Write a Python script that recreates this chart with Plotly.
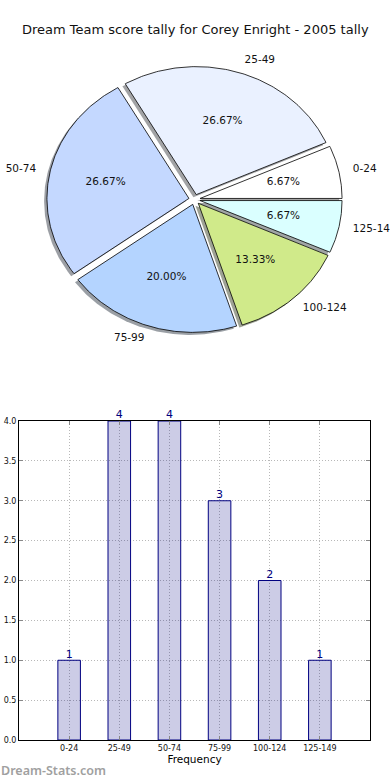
import numpy as np
import plotly.graph_objects as go

# ---- data ----
categories = ["0-24", "25-49", "50-74", "75-99", "100-124", "125-149"]
counts = [1, 4, 4, 3, 2, 1]
pie_colors = ["#FFFFFF", "#EAF1FF", "#C4D8FF", "#B4D4FF", "#D0EA8A", "#DAFFFF"]
y_ticks = [0.0, 0.5, 1.0, 1.5, 2.0, 2.5, 3.0, 3.5, 4.0]
title_text = "Dream Team score tally for Corey Enright - 2005 tally"

W, H = 390, 780
FONT = "DejaVu Sans"

fig = go.Figure()

# ---- pie drawn as filled wedges on an unequal-aspect axis (like matplotlib) ----
total = float(sum(counts))
explode = 0.04
cum = np.concatenate([[0], np.cumsum(counts)]) / total * 360.0
wedges = []
for i in range(len(counts)):
    t1, t2 = cum[i], cum[i + 1]
    mid = np.deg2rad((t1 + t2) / 2)
    cx, cy = explode * np.cos(mid), explode * np.sin(mid)
    th = np.deg2rad(np.linspace(t1, t2, 120))
    xs = np.concatenate([[cx], cx + np.cos(th), [cx]])
    ys = np.concatenate([[cy], cy + np.sin(th), [cy]])
    wedges.append((xs, ys, cx, cy, mid))

def hex_to_rgb(h):
    h = h.lstrip("#")
    return [int(h[k:k + 2], 16) for k in (0, 2, 4)]

# shadows first (below all wedges)
for i, (xs, ys, cx, cy, mid) in enumerate(wedges):
    r, g, b = [int(0.3 * c) for c in hex_to_rgb(pie_colors[i])]
    fig.add_trace(go.Scatter(
        x=xs - 0.02, y=ys - 0.02, xaxis="x2", yaxis="y2",
        mode="lines", fill="toself", fillcolor=f"rgba({r},{g},{b},0.5)",
        line=dict(width=0), hoverinfo="skip", showlegend=False))

for i, (xs, ys, cx, cy, mid) in enumerate(wedges):
    fig.add_trace(go.Scatter(
        x=xs, y=ys, xaxis="x2", yaxis="y2",
        mode="lines", fill="toself", fillcolor=pie_colors[i],
        line=dict(color="black", width=0.8), hoverinfo="skip", showlegend=False))

# labels and percentages
lab_x, lab_y, lab_pos, pct_x, pct_y, pct_t = [], [], [], [], [], []
for i, (xs, ys, cx, cy, mid) in enumerate(wedges):
    lx, ly = cx + 1.1 * np.cos(mid), cy + 1.1 * np.sin(mid)
    lab_x.append(lx); lab_y.append(ly)
    lab_pos.append("middle right" if lx > 0 else "middle left")
    pct_x.append(cx + 0.6 * np.cos(mid)); pct_y.append(cy + 0.6 * np.sin(mid))
    pct_t.append(f"{100.0 * counts[i] / total:.2f}%")

for k in range(len(categories)):
    fig.add_trace(go.Scatter(
        x=[lab_x[k]], y=[lab_y[k]], xaxis="x2", yaxis="y2", mode="text",
        text=[categories[k]], textposition=lab_pos[k],
        textfont=dict(family=FONT, size=10.5, color="#111"),
        hoverinfo="skip", showlegend=False, cliponaxis=False))
fig.add_trace(go.Scatter(
    x=pct_x, y=pct_y, xaxis="x2", yaxis="y2", mode="text",
    text=pct_t, textposition="middle center",
    textfont=dict(family=FONT, size=10.5, color="#111"),
    hoverinfo="skip", showlegend=False, cliponaxis=False))

# ---- bar chart ----
fig.add_trace(go.Bar(
    x=categories, y=counts, width=0.45,
    marker=dict(color="rgba(0,0,128,0.2)", line=dict(color="#000080", width=1)),
    hoverinfo="skip", showlegend=False))
fig.add_trace(go.Scatter(
    x=categories, y=counts, mode="text", text=[str(c) for c in counts],
    textposition="top center", textfont=dict(family=FONT, size=11, color="#000080"),
    cliponaxis=False, hoverinfo="skip", showlegend=False))

# pie axis geometry: center px, x/y radii in px
cxp, cyp, rx, ry = 194.5, 199.5, 142.0, 128.0
py_top, py_bot = 40.0, 360.0

grid = dict(showgrid=True, gridcolor="#b8b8b8", griddash="1px,2px", gridwidth=1)

fig.update_layout(
    width=W, height=H, margin=dict(l=0, r=0, t=0, b=0, autoexpand=False),
    paper_bgcolor="white", plot_bgcolor="white", showlegend=False,
    font=dict(family=FONT, color="black"),
    xaxis=dict(domain=[19 / W, 370 / W], type="category", range=[-1, 6], **grid,
               ticks="inside", ticklen=4, tickcolor="#888", mirror="allticks",
               showline=True, linecolor="black", linewidth=1, automargin=False,
               tickfont=dict(family=FONT, size=8, color="#111"),
               title=dict(text="Frequency", font=dict(family=FONT, size=10.5), standoff=3),
               zeroline=False, fixedrange=True),
    yaxis=dict(domain=[1 - 740 / H, 1 - 421 / H], range=[0, 4.0],
               tickvals=y_ticks, ticktext=[f"{v:.1f}" for v in y_ticks], **grid,
               ticks="inside", ticklen=4, tickcolor="#888", mirror="allticks",
               showline=True, linecolor="black", linewidth=1, automargin=False,
               tickfont=dict(family=FONT, size=8, color="#111"),
               zeroline=False, fixedrange=True),
    xaxis2=dict(domain=[0, 1], range=[-cxp / rx, (W - cxp) / rx], visible=False,
                anchor="y2", fixedrange=True, automargin=False),
    yaxis2=dict(domain=[1 - py_bot / H, 1 - py_top / H],
                range=[(cyp - py_bot) / ry, (cyp - py_top) / ry], visible=False,
                anchor="x2", fixedrange=True, automargin=False),
)

fig.add_annotation(text=title_text, x=0.5, y=1 - 30 / H, xref="paper", yref="paper",
                   showarrow=False, font=dict(family=FONT, size=13, color="#111"),
                   xanchor="center", yanchor="middle")
fig.add_annotation(text="Dream-Stats.com", x=0, y=1 - 770 / H, xref="paper",
                   yref="paper", showarrow=False, xanchor="left", yanchor="middle",
                   xshift=-1,
                   font=dict(family="Noto Sans", size=12.5, color="#a0a0a0", weight=600))

fig.write_html("out.html", config={"displayModeBar": False},
               post_script="document.body.style.margin='0';")
